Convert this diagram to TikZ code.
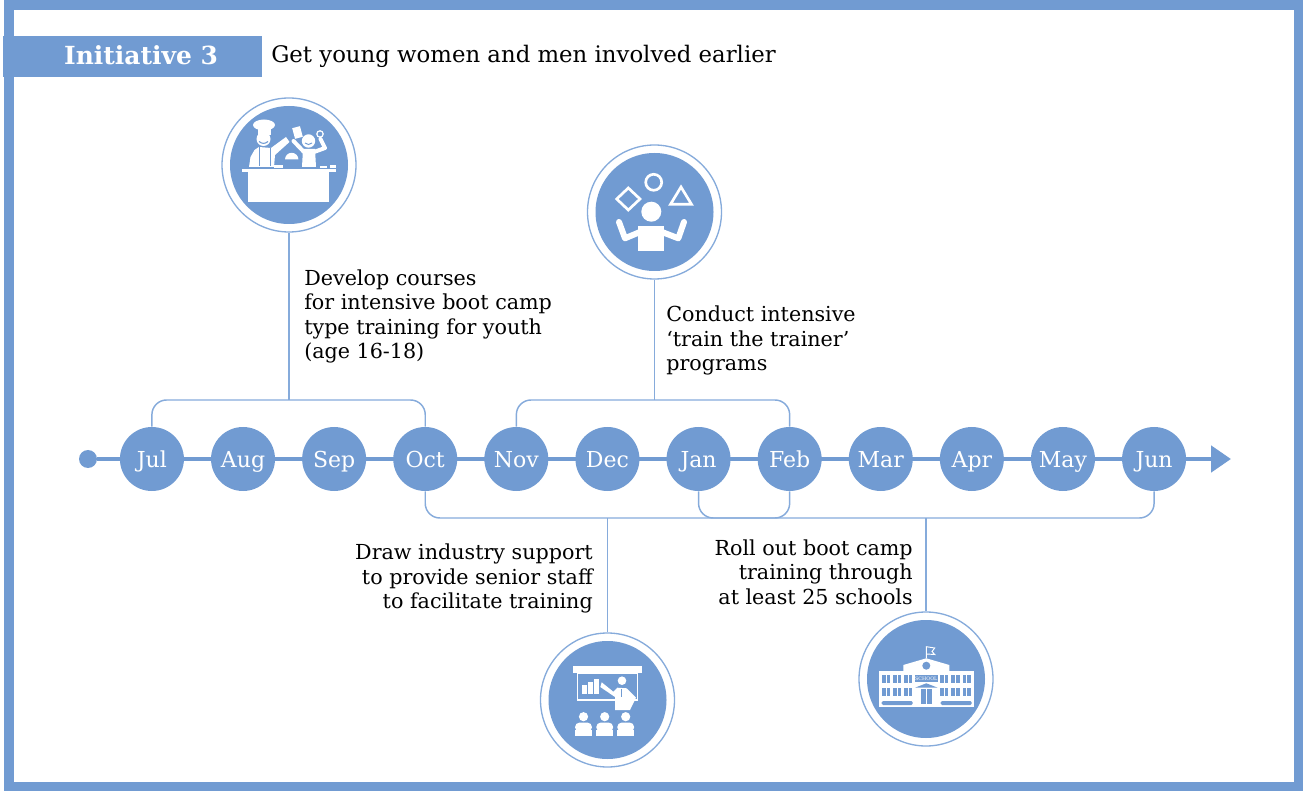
\documentclass[tikz,border=0pt]{standalone}
\usepackage{fontspec}
\setmainfont{DejaVu Serif}
\usepackage{tikz}
\usetikzlibrary{matrix}
\usetikzlibrary{arrows.meta}
\usetikzlibrary{calc}
\definecolor{ibm}{HTML}{719BD2}
\definecolor{ibl}{HTML}{86ABDB}
\newcommand{\schoolwin}[2]{\fill[ibm] (#1,#2) rectangle +(8.4,8.4); \draw[white,line width=0.5pt] ($(#1,#2)+(4.2,0)$) -- +(0,8.4);}
\newcommand{\seatperson}[1]{\fill[white] (#1,716.7) circle (4.6); \fill[white,rounded corners=3pt] ($(#1,735.7)+(-8.3,-13)$) rectangle +(16.6,9); \fill[white] ($(#1,735.7)+(-8.7,-6)$) rectangle +(17.4,6);}

\begin{document}
\begin{tikzpicture}[x=0.75pt, y=-0.75pt]

    \tikzstyle{frameline} = [draw=ibm, line width=7.1pt]
    \tikzstyle{titlebox} = [rectangle, fill=ibm, minimum width=194.25pt, minimum height=30.75pt, inner sep=0pt]
    \tikzstyle{mth} = [circle, fill=ibm, text=white, minimum size=48pt, inner sep=0pt, text height=12pt, text depth=0pt, font=\fontsize{16.5}{18}\selectfont]
    \tikzstyle{axis} = [draw=ibm, line width=3.6pt, -{Triangle[length=15pt, width=19.5pt]}]
    \tikzstyle{dot} = [circle, fill=ibm, minimum size=13.5pt, inner sep=0pt]
    \tikzstyle{link} = [draw=ibl, line width=1.1pt, rounded corners=11pt]
    \tikzstyle{ring} = [circle, draw=ibl, fill=white, line width=1pt, minimum size=100.5pt, inner sep=0pt]
    \tikzstyle{disc} = [circle, fill=ibm, minimum size=88.5pt, inner sep=0pt]
    \tikzstyle{lab} = [inner sep=0pt, font=\fontsize{15.5}{18.4}\selectfont]

    \useasboundingbox (0,0) rectangle (1303,791);

    % Frame and heading %%%%%%%%%%%%%%%%%%%%%%%%%%%%%%%%%%%%%%%%%%%%%%%%%%%%%%%%%%%%%%%%%
    \draw [frameline] (9,5) rectangle (1298.5,786.5);
    \node [titlebox] (titleBox) at (132.5,56.5) {};
    \node [text=white, inner sep=0pt, font=\fontsize{18.7}{20}\selectfont\bfseries] (titleText) at (141,55) {Initiative 3};
    \node [lab, anchor=west, font=\fontsize{17.1}{18}\selectfont] (subTitle) at (271,56) {Get young women and men involved earlier};

    % Time line, months placed with the matrix library %%%%%%%%%%%%%%%%%%%%%%%%%%%%%%%%%%
    \node [dot] (startDot) at (88,459) {};
    \coordinate (arrowEnd) at (1231,459);
    \draw [axis] (startDot) -- (arrowEnd);

    \matrix[ampersand replacement=\&, column sep=20.33pt, inner sep=0pt] (months) at (653,459) {
      \node[mth] (mthJul) {Jul}; \&
      \node[mth] (mthAug) {Aug}; \&
      \node[mth] (mthSep) {Sep}; \&
      \node[mth] (mthOct) {Oct}; \&
      \node[mth] (mthNov) {Nov}; \&
      \node[mth] (mthDec) {Dec}; \&
      \node[mth] (mthJan) {Jan}; \&
      \node[mth] (mthFeb) {Feb}; \&
      \node[mth] (mthMar) {Mar}; \&
      \node[mth] (mthApr) {Apr}; \&
      \node[mth] (mthMay) {May}; \&
      \node[mth] (mthJun) {Jun};
      \\
    };

    % Icon circles %%%%%%%%%%%%%%%%%%%%%%%%%%%%%%%%%%%%%%%%%%%%%%%%%%%%%%%%%%%%%%%%%%%%%%
    \node [ring] (iconA) at (289,165) {};
    \node [ring] (iconB) at (654.5,212) {};
    \node [ring] (iconC) at (607.5,700) {};
    \node [ring] (iconD) at (926,679) {};
    \node [disc] (discA) at (iconA) {};
    \node [disc] (discB) at (iconB) {};
    \node [disc] (discC) at (iconC) {};
    \node [disc] (discD) at (iconD) {};

    % Now link the nodes %%%%%%%%%%%%%%%%%%%%%%%%%%%%%%%%%%%%%%%%%%%%%%%%%%%%%%%%%%%%%%%%
    \coordinate (topA) at (289,400);
    \coordinate (topB) at (654.5,400);
    \coordinate (botA) at (607.5,518);
    \coordinate (botB) at (744,518);
    \coordinate (botC) at (926,518);

    \draw [link] (mthJul.north) |- (topA) -| (mthOct.north);
    \draw [link] (mthNov.north) |- (topB) -| (mthFeb.north);
    \draw [link] (mthOct.south) |- (botA) -| (mthJun.south);
    \draw [link] (mthJan.south) |- (botB) -| (mthFeb.south);
    \draw [link] (topA) -- (iconA.south);
    \draw [link] (topB) -- (iconB.south);
    \draw [link] (botA) -- (iconC.north);
    \draw [link] (botC) -- (iconD.north);

    % Labels %%%%%%%%%%%%%%%%%%%%%%%%%%%%%%%%%%%%%%%%%%%%%%%%%%%%%%%%%%%%%%%%%%%%%%%%%%%%
    \node [lab, anchor=west, align=left] (labA) at (304,316.5) {Develop courses\\for intensive boot camp\\type training for youth\\(age 16-18)};
    \node [lab, anchor=west, align=left] (labB) at (666,340.5) {Conduct intensive\\‘train the trainer’\\programs};
    \node [lab, anchor=east, align=right] (labC) at (593,578.5) {Draw industry support\\to provide senior staff\\to facilitate training};
    \node [lab, anchor=east, align=right] (labD) at (913,572) {Roll out boot camp\\training through\\at least 25 schools};

    % Icon A: cooks %%%%%%%%%%%%%%%%%%%%%%%%%%%%%%%%%%%%%%%%%%%%%%%%%%%%%%%%%%%%%%%%%%%%%
    \fill [white] (242.3,169) rectangle (335.7,172);
    \fill [white] (248.3,172) rectangle (329.3,202);
    \fill [white] (264,125) ellipse (11 and 5.5);
    \fill [white] (257.5,125) rectangle (270.5,135);
    \fill [white] (263.5,139) circle (7);
    \draw [ibm, line width=0.8pt] (259,141.5) .. controls (262,144) and (265,144) .. (268,141.5);
    \fill [white] (249,167) -- (250.5,157) -- (254.5,150) -- (259,147) -- (271,148) -- (286,137) -- (289.5,142) -- (275,155) -- (274,167) -- cycle;
    \draw [ibm, line width=0.7pt] (259.5,147) -- (259.5,166) (270.7,148) -- (270.7,166);
    \fill [white] (308.5,141) circle (6.7);
    \draw [ibm, line width=0.7pt] (305,143) .. controls (307,145) and (310,145) .. (312,143);
    \fill [white] (303,149) -- (315,149) -- (316,167) -- (302,167) -- cycle;
    \draw [white, line width=3pt, line cap=round, line join=round] (304,152) -- (293.5,141);
    \draw [white, line width=3pt, line cap=round, line join=round] (314,152) -- (325,148) -- (320.5,139);
    \fill [white, rotate around={15:(297.5,132.5)}] (293.5,127) rectangle (301.5,138);
    \draw [white, line width=0.9pt] (320,134) circle (3.2);
    \fill [white] (285,159.5) arc[start angle=180, end angle=360, radius=6.7] -- cycle;
    \fill [white] (274,165.5) rectangle (283,168);
    \fill [white] (320,166) rectangle (327,168);
    \fill [white] (330,165.5) rectangle (336,168);

    % Icon B: juggler %%%%%%%%%%%%%%%%%%%%%%%%%%%%%%%%%%%%%%%%%%%%%%%%%%%%%%%%%%%%%%%%%%%
    \draw [white, line width=2pt] (628.3,188) -- (640,199) -- (628.3,210) -- (616.7,199) -- cycle;
    \draw [white, line width=2pt] (653.7,182.3) circle (8);
    \draw [white, line width=2pt] (681,187) -- (691.5,204.3) -- (670.5,204.3) -- cycle;
    \fill [white] (651.3,211.7) circle (10);
    \fill [white] (638.3,225.7) rectangle (664,250.7);
    \draw [white, line width=4.5pt, line cap=round, line join=round] (640,232) -- (625,238.3) -- (619,222);
    \draw [white, line width=4.5pt, line cap=round, line join=round] (662,232) -- (678.3,238.3) -- (684,222);

    % Icon C: presenter %%%%%%%%%%%%%%%%%%%%%%%%%%%%%%%%%%%%%%%%%%%%%%%%%%%%%%%%%%%%%%%%%
    \fill [white] (572.7,665.7) rectangle (642.3,673.3);
    \draw [white, line width=0.9pt] (577.7,673.3) rectangle (637.3,700);
    \fill [white] (581.7,685) rectangle (587,694.3);
    \fill [white] (587.7,682.3) rectangle (593,694.3);
    \fill [white] (594,679) rectangle (599,694.3);
    \fill [white] (622,680.7) circle (4.3);
    \fill [white] (615,710) -- (630,710) -- (636,697.7) -- (626.7,688.3) -- (617.3,687.7) -- (613.3,691.7) -- (601.7,682.3) -- (600.3,687) -- (615,697) -- cycle;
    \draw [ibm, line width=0.8pt] (621.7,689) -- (621.7,697);
    \seatperson{583.5}
    \seatperson{604.7}
    \seatperson{625.7}

    % Icon D: school %%%%%%%%%%%%%%%%%%%%%%%%%%%%%%%%%%%%%%%%%%%%%%%%%%%%%%%%%%%%%%%%%%%%
    \fill [white] (879,671) rectangle (974,706.7);
    \fill [white] (903.3,671) -- (903.3,665) -- (926.3,658.3) -- (949.3,665) -- (949.3,671) -- cycle;
    \draw [white, line width=0.7pt] (926.3,658.3) -- (926.3,646.7) -- (934.7,648) -- (932,651.5) -- (934.7,654.5) -- (926.3,654);
    \fill [ibm] (926.3,665.7) circle (4);
    \schoolwin{881.7}{675}
    \schoolwin{892.7}{675}
    \schoolwin{904}{675}
    \schoolwin{940}{675}
    \schoolwin{951.2}{675}
    \schoolwin{962.6}{675}
    \schoolwin{881.7}{687.7}
    \schoolwin{892.7}{687.7}
    \schoolwin{904}{687.7}
    \schoolwin{940}{687.7}
    \schoolwin{951.2}{687.7}
    \schoolwin{962.6}{687.7}
    \fill [ibm] (915,687.7) -- (926.3,683.3) -- (937.7,687.7) -- cycle;
    \fill [ibm] (920.7,689.3) rectangle (932.3,704.3);
    \draw [white, line width=0.5pt] (926.5,689.3) -- (926.5,704.3);
    \fill [ibm, rounded corners=1pt] (881.7,701) rectangle (912.7,705);
    \fill [ibm, rounded corners=1pt] (940.7,701) rectangle (971.7,705);
    \node [rectangle, fill=ibm, text=white, minimum width=17pt, minimum height=5.5pt, inner sep=0pt, font=\fontsize{3.6}{4}\selectfont] (schoolSign) at (926.3,678.6) {SCHOOL};

\end{tikzpicture}
\end{document}
